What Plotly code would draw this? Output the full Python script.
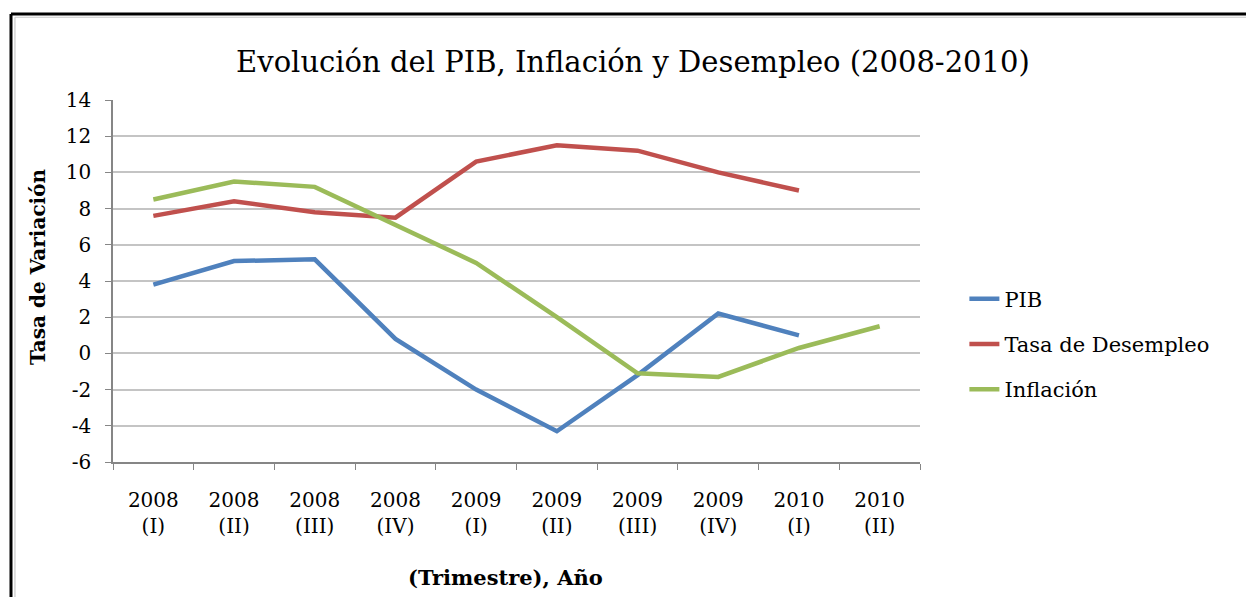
import plotly.graph_objs as go

# Trimestres (eje x)
trimestres = ['2008<br>(I)', '2008<br>(II)', '2008<br>(III)', '2008<br>(IV)',
              '2009<br>(I)', '2009<br>(II)', '2009<br>(III)', '2009<br>(IV)',
              '2010<br>(I)', '2010<br>(II)']

# Series
pib = [3.8, 5.1, 5.2, 0.8, -2.0, -4.3, -1.2, 2.2, 1.0, None]
desempleo = [7.6, 8.4, 7.8, 7.5, 10.6, 11.5, 11.2, 10.0, 9.0, None]
inflacion = [8.5, 9.5, 9.2, 7.1, 5.0, 2.0, -1.1, -1.3, 0.3, 1.5]

# Eje y
y_ticks = [-6, -4, -2, 0, 2, 4, 6, 8, 10, 12, 14]
y_labels = [str(v) for v in y_ticks]

fuente = 'DejaVu Serif'

traces = [
    go.Scatter(x=trimestres, y=pib, mode='lines', name='PIB', legendgroup='a',
               line=dict(color='#4F81BD', width=4.5)),
    go.Scatter(x=trimestres, y=desempleo, mode='lines', name='Tasa de Desempleo', legendgroup='b',
               line=dict(color='#C0504D', width=4.5)),
    go.Scatter(x=trimestres, y=inflacion, mode='lines', name='Inflación', legendgroup='c',
               line=dict(color='#9BBB59', width=4.5)),
]

layout = go.Layout(
    width=1246, height=597,
    paper_bgcolor='white', plot_bgcolor='white',
    margin=dict(l=113, r=326, t=100, b=135),
    font=dict(family=fuente, color='black', size=20),
    title=dict(text='Evolución del PIB, Inflación y Desempleo (2008-2010)',
               x=0.508, xanchor='center', y=0.897, yanchor='middle',
               font=dict(size=29)),
    xaxis=dict(
        range=[-0.5, 9.5], automargin=False,
        showgrid=False, showline=True, linecolor='#868686', linewidth=1.5,
        ticks='outside', tickson='boundaries', ticklen=6, tickcolor='#868686',
        ticklabelstandoff=19,
        tickfont=dict(size=20),
    ),
    yaxis=dict(
        range=[-6, 14], tickvals=y_ticks, ticktext=y_labels, zeroline=False,
        automargin=False,
        showgrid=True, gridcolor='#c4c4c4', gridwidth=1.8,
        showline=True, linecolor='#868686', linewidth=1.5,
        ticks='outside', ticklen=6, tickcolor='#868686',
        ticklabelstandoff=10,
        tickfont=dict(size=20),
    ),
    legend=dict(x=1.055, y=0.326, xanchor='left', yanchor='middle', traceorder='grouped',
                font=dict(size=21), tracegroupgap=15),
    annotations=[
        dict(text='<b>Tasa de Variación</b>', textangle=-90, showarrow=False,
             xref='paper', yref='paper', x=-0.093, y=0.541,
             xanchor='center', yanchor='middle', font=dict(size=20)),
        dict(text='<b>(Trimestre), Año</b>', showarrow=False,
             xref='paper', yref='paper', x=0.486, y=-0.320,
             xanchor='center', yanchor='middle', font=dict(size=21)),
    ],
    shapes=[
        dict(type='line', xref='paper', yref='paper', x0=-0.1264, x1=1.5, y0=1.2376, y1=1.2376,
             line=dict(color='black', width=3)),
        dict(type='line', xref='paper', yref='paper', x0=-0.1264, x1=-0.1264, y0=-0.5, y1=1.2376,
             line=dict(color='black', width=3)),
        dict(type='line', xref='paper', yref='paper', x0=-0.1215, x1=1.5, y0=1.2286, y1=1.2286,
             line=dict(color='#c8c8c8', width=1.2)),
        dict(type='line', xref='paper', yref='paper', x0=-0.1215, x1=-0.1215, y0=-0.5, y1=1.2286,
             line=dict(color='#c8c8c8', width=1.2)),
    ],
)

fig = go.Figure(data=traces, layout=layout)
fig.write_html('out.html', config={'displayModeBar': False},
               post_script="document.body.style.margin='0';")
